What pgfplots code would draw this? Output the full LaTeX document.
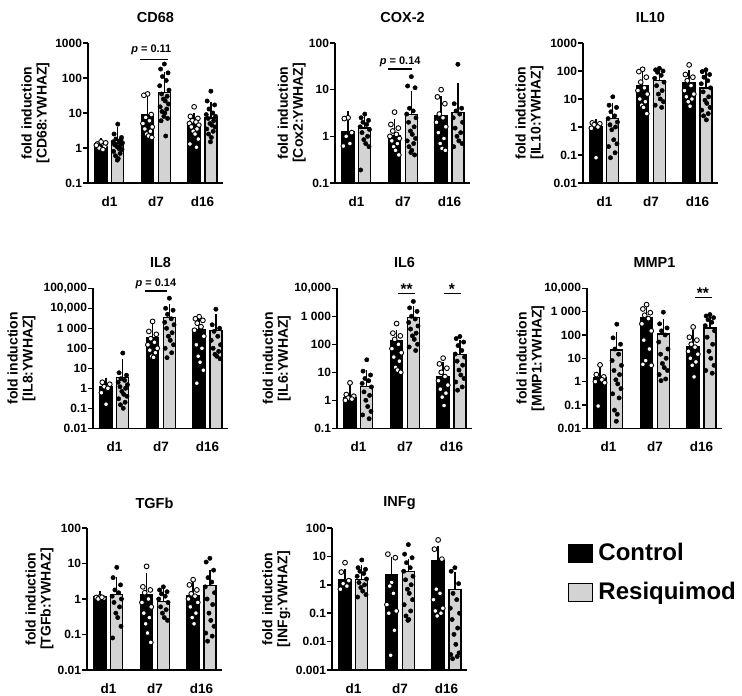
\documentclass[border=0pt]{standalone}
\usepackage{fontspec}
\setmainfont{Liberation Sans}
\usepackage{pgfplots}
\pgfplotsset{compat=1.18}
\definecolor{resq}{RGB}{211,211,211}
\newcommand{\labf}{\fontsize{14}{15}\selectfont\bfseries}
\newcommand{\titf}{\fontsize{14.5}{16}\selectfont\bfseries}
\newcommand{\pfont}{\fontsize{11}{12}\selectfont\bfseries}
\newcommand{\sfont}{\fontsize{15.5}{17}\selectfont\bfseries}
\pgfplotsset{
  cellaxis/.style={scale only axis, width=135pt, xmin=-0.46, xmax=2.44, log origin y=infty,
    axis x line*=bottom, axis y line*=left, axis line style={line width=1.5pt},
    xtick={0,1,2}, xticklabels={d1,d7,d16}, xtick style={draw=none},
    ytick style={line width=1.5pt,black}, tick align=outside, major tick length=5pt,
    yminorticks=false, clip=false, anchor=south west,
    xticklabel style={font=\fontsize{13.5}{15}\selectfont\bfseries, yshift=-5pt},
    yticklabel style={font=\fontsize{12}{14}\selectfont\bfseries, xshift=2.5pt}},
  ctrlbar/.style={ybar, bar shift=0pt, bar width=12pt, fill=black, draw=black, line width=1.3pt,
    error bars/y dir=plus, error bars/y explicit,
    error bars/error bar style={line width=1.3pt,black},
    error bars/error mark options={mark size=5pt,line width=1.3pt,black}},
  resqbar/.style={ybar, bar shift=0pt, bar width=12pt, fill=resq, draw=black, line width=1.3pt,
    error bars/y dir=plus, error bars/y explicit,
    error bars/error bar style={line width=1.3pt,black},
    error bars/error mark options={mark size=5pt,line width=1.3pt,black}},
  ctrlpts/.style={only marks, mark=*, mark size=2.4pt, mark options={fill=white,draw=black,line width=0.9pt}},
  resqpts/.style={only marks, mark=*, mark size=2.2pt, mark options={fill=black,draw=black}},
}
\begin{document}
\begin{tikzpicture}
\useasboundingbox (0,0) rectangle (742pt,696pt);
% ---------------- CD68
\begin{axis}[cellaxis, ymode=log, height=140pt, at={(88pt,513pt)}, ymin=0.1, ymax=1000,
  ytick={0.1,1,10,100,1000}, yticklabels={0.1,1,10,100,1000}]
\addplot[ctrlbar] coordinates {(-0.18,1.1) +- (0,0.3) (0.82,8.9) +- (0,12.6) (1.82,4.85) +- (0,2.35)};
\addplot[resqbar] coordinates {(0.18,1.35) +- (0,1.45) (1.18,39) +- (0,65) (2.18,7.2) +- (0,7.8)};
\addplot[ctrlpts] coordinates {(-0.18,1.5)(-0.26,1.3)(-0.10,1.1)(-0.22,1.0)(-0.14,0.9)(-0.28,1.2)(-0.08,1.4)
(0.82,35)(0.74,32)(0.90,9)(0.78,7.5)(0.86,6)(0.72,5)(0.92,4)(0.76,3.5)(0.88,3)(0.80,2.5)(0.84,2.2)(0.91,2.0)
(1.82,15)(1.74,8)(1.90,7)(1.78,6)(1.86,5.5)(1.72,5)(1.92,4.5)(1.76,4)(1.88,3.5)(1.80,3)(1.84,2.5)(1.91,1.8)(1.73,1.3)(1.87,1.05)};
\addplot[resqpts] coordinates {(0.18,4.8)(0.10,2.5)(0.26,2.0)(0.14,1.8)(0.22,1.6)(0.08,1.5)(0.28,1.4)(0.12,1.3)(0.24,1.2)(0.16,1.1)(0.20,1.0)(0.27,0.9)(0.09,0.8)(0.23,0.7)(0.13,0.6)(0.19,0.5)(0.17,0.45)(0.25,1.7)(0.11,1.25)(0.21,0.95)
(1.18,250)(1.10,180)(1.26,140)(1.14,110)(1.22,85)(1.08,60)(1.28,45)(1.12,35)(1.24,30)(1.16,25)(1.20,22)(1.27,18)(1.09,15)(1.23,13)(1.13,11)(1.19,10)(1.17,8)(1.25,7)(1.11,6)(1.21,2.2)
(2.18,42)(2.10,22)(2.26,17)(2.14,13)(2.22,10)(2.08,9)(2.28,8)(2.12,7)(2.24,6)(2.16,5)(2.20,4.5)(2.27,4)(2.09,3.5)(2.23,3)(2.13,2.5)(2.19,2)(2.17,1.5)};
\draw[line width=1.3pt] (axis cs:0.65,345) -- (axis cs:1.25,345);
\node[font=\pfont, anchor=base, yshift=6.5pt] at (axis cs:0.9,345) {{\itshape p} = 0.11};
\node[font=\titf, yshift=25.5pt] at (rel axis cs:0.5,1) {CD68};
\node[font=\labf, xshift=-52.6pt, rotate=90, align=center] at (rel axis cs:0,0.5) {fold induction\\{[}CD68:YWHAZ{]}};
\end{axis}
% ---------------- COX-2
\begin{axis}[cellaxis, ymode=log, height=140pt, at={(335pt,513pt)}, ymin=0.1, ymax=100,
  ytick={0.1,1,10,100}, yticklabels={0.1,1,10,100}]
\addplot[ctrlbar] coordinates {(-0.18,1.28) +- (0,1.42) (0.82,1.05) +- (0,0.75) (1.82,2.8) +- (0,2.8)};
\addplot[resqbar] coordinates {(0.18,1.5) +- (0,1.0) (1.18,2.9) +- (0,4.3) (2.18,3.2) +- (0,7.6)};
\addplot[ctrlpts] coordinates {(-0.18,2.5)(-0.26,2.4)(-0.10,1.2)(-0.22,1.0)(-0.14,0.7)(-0.28,0.62)
(0.82,3.3)(0.74,1.8)(0.90,1.5)(0.78,1.3)(0.86,1.1)(0.72,1.0)(0.92,0.9)(0.76,0.8)(0.88,0.7)(0.80,0.6)(0.84,0.5)(0.91,0.4)
(1.82,10)(1.74,7)(1.90,5)(1.78,3)(1.86,2.5)(1.72,2)(1.92,1.6)(1.76,1.2)(1.88,0.9)(1.80,0.7)(1.84,0.55)(1.91,0.5)};
\addplot[resqpts] coordinates {(0.18,3.0)(0.10,2.5)(0.26,2.2)(0.14,2.0)(0.22,1.8)(0.08,1.6)(0.28,1.4)(0.12,1.2)(0.24,1.0)(0.16,0.85)(0.20,0.7)(0.27,0.6)(0.09,0.19)
(1.18,19)(1.10,12)(1.26,11)(1.14,4)(1.22,3.5)(1.08,3)(1.28,2.5)(1.12,2)(1.24,1.6)(1.16,1.3)(1.20,1.1)(1.27,0.9)(1.09,0.8)(1.23,0.7)(1.13,0.6)(1.19,0.5)(1.17,0.45)(1.25,0.4)
(2.18,35)(2.10,5)(2.26,4)(2.14,3.5)(2.22,3)(2.08,2.5)(2.28,2)(2.12,1.5)(2.24,1.2)(2.16,1.0)(2.20,0.8)(2.27,0.7)(2.09,0.6)};
\draw[line width=1.3pt] (axis cs:0.68,27.7) -- (axis cs:1.19,27.7);
\node[font=\pfont, anchor=base, yshift=4.5pt] at (axis cs:0.94,27.7) {{\itshape p} = 0.14};
\node[font=\titf, yshift=25.5pt] at (rel axis cs:0.5,1) {COX-2};
\node[font=\labf, xshift=-43.3pt, rotate=90, align=center] at (rel axis cs:0,0.5) {fold induction\\{[}Cox2:YWHAZ{]}};
\end{axis}
% ---------------- IL10
\begin{axis}[cellaxis, ymode=log, height=140pt, at={(583pt,513pt)}, ymin=0.01, ymax=1000,
  ytick={0.01,0.1,1,10,100,1000}, yticklabels={0.01,0.1,1,10,100,1000}]
\addplot[ctrlbar] coordinates {(-0.18,1.0) +- (0,0.3) (0.82,30) +- (0,34) (1.82,37) +- (0,37)};
\addplot[resqbar] coordinates {(0.18,2.0) +- (0,2.8) (1.18,45) +- (0,52) (2.18,25) +- (0,36)};
\addplot[ctrlpts] coordinates {(-0.26,1.4)(-0.10,1.3)(-0.22,1.2)(-0.14,1.0)(-0.28,0.9)(-0.18,0.08)
(0.82,115)(0.74,95)(0.90,60)(0.78,40)(0.86,25)(0.72,20)(0.92,15)(0.76,10)(0.88,8)(0.80,6)(0.84,5)(0.91,3)
(1.82,165)(1.74,75)(1.90,60)(1.78,45)(1.86,30)(1.72,20)(1.92,15)(1.76,12)(1.88,10)(1.80,8)(1.84,5.5)};
\addplot[resqpts] coordinates {(0.18,12)(0.10,6)(0.26,5)(0.14,3.5)(0.22,2.5)(0.08,2)(0.28,1.5)(0.12,1.2)(0.24,1.0)(0.16,0.8)(0.20,0.35)(0.27,0.25)(0.09,0.2)(0.23,0.12)(0.13,0.08)
(1.18,125)(1.10,110)(1.26,100)(1.14,90)(1.22,70)(1.08,55)(1.28,40)(1.12,30)(1.24,20)(1.16,15)(1.20,10)(1.27,8)(1.09,6)(1.23,5)
(2.18,110)(2.10,95)(2.26,75)(2.14,60)(2.22,45)(2.08,35)(2.28,25)(2.12,18)(2.24,12)(2.16,9)(2.20,7)(2.27,5)(2.09,4)(2.23,3)(2.13,2.5)(2.19,1.8)};
\node[font=\titf, yshift=25.5pt] at (rel axis cs:0.5,1) {IL10};
\node[font=\labf, xshift=-53.5pt, rotate=90, align=center] at (rel axis cs:0,0.5) {fold induction\\{[}IL10:YWHAZ{]}};
\end{axis}
% ---------------- IL8
\begin{axis}[cellaxis, ymode=log, height=140pt, at={(93pt,267.7pt)}, ymin=0.01, ymax=100000,
  ytick={0.01,0.1,1,10,100,1000,10000,100000}, yticklabels={0.01,0.1,1,10,100,{1 000},{10,000},{100,000}}]
\addplot[ctrlbar] coordinates {(-0.18,1.2) +- (0,0.7) (0.82,355) +- (0,575) (1.82,890) +- (0,1710)};
\addplot[resqbar] coordinates {(0.18,3.4) +- (0,12.4) (1.18,3400) +- (0,5600) (2.18,760) +- (0,2040)};
\addplot[ctrlpts] coordinates {(-0.26,2.0)(-0.10,1.6)(-0.22,1.2)(-0.14,1.0)(-0.28,0.6)(-0.18,0.16)
(0.82,2200)(0.74,700)(0.90,500)(0.78,300)(0.86,200)(0.72,150)(0.92,100)(0.76,80)(0.88,60)(0.80,40)(0.84,35)
(1.82,3800)(1.74,3000)(1.90,2500)(1.78,1800)(1.86,1200)(1.72,800)(1.92,400)(1.76,150)(1.88,100)(1.80,40)(1.84,20)(1.91,8)(1.77,1.8)};
\addplot[resqpts] coordinates {(0.18,58)(0.10,6)(0.26,4.5)(0.14,3)(0.22,2.5)(0.08,2)(0.28,1.5)(0.12,1.2)(0.24,1.0)(0.16,0.7)(0.20,0.5)(0.27,0.4)(0.09,0.3)(0.23,0.2)(0.13,0.15)(0.19,0.1)
(1.18,32000)(1.10,10000)(1.26,8000)(1.14,5000)(1.22,3000)(1.08,2000)(1.28,1500)(1.12,1000)(1.24,600)(1.16,400)(1.20,250)(1.27,150)(1.09,100)(1.23,60)(1.13,34)
(2.18,9000)(2.10,1500)(2.26,1000)(2.14,700)(2.22,400)(2.08,250)(2.28,150)(2.12,100)(2.24,70)(2.16,50)(2.20,40)(2.27,30)};
\draw[line width=1.3pt] (axis cs:0.66,73300) -- (axis cs:1.13,73300);
\node[font=\pfont, anchor=base, yshift=4pt] at (axis cs:0.89,73300) {{\itshape p} = 0.14};
\node[font=\titf, yshift=26pt] at (rel axis cs:0.5,1) {IL8};
\node[font=\labf, xshift=-71.6pt, rotate=90, align=center] at (rel axis cs:0,0.5) {fold induction\\{[}IL8:YWHAZ{]}};
\end{axis}
% ---------------- IL6
\begin{axis}[cellaxis, ymode=log, height=140pt, at={(337pt,267.7pt)}, ymin=0.1, ymax=10000,
  ytick={0.1,1,10,100,1000,10000}, yticklabels={0.1,1,10,100,{1 000},{10,000}}]
\addplot[ctrlbar] coordinates {(-0.18,1.2) +- (0,1.1) (0.82,130) +- (0,80) (1.82,6.8) +- (0,8.7)};
\addplot[resqbar] coordinates {(0.18,3.2) +- (0,4.6) (1.18,895) +- (0,705) (2.18,44) +- (0,48)};
\addplot[ctrlpts] coordinates {(-0.18,4.2)(-0.26,1.6)(-0.10,1.4)(-0.22,1.2)(-0.14,1.1)(-0.28,1.0)
(0.82,550)(0.74,250)(0.90,200)(0.78,150)(0.86,100)(0.72,70)(0.92,50)(0.76,35)(0.88,25)(0.80,15)(0.84,12)(0.91,10)
(1.82,32)(1.74,20)(1.90,14)(1.78,10)(1.86,7)(1.72,5)(1.92,3.5)(1.76,2.5)(1.88,1.8)(1.80,1.3)(1.84,0.65)};
\addplot[resqpts] coordinates {(0.18,28)(0.10,11)(0.26,8)(0.14,6)(0.22,5)(0.08,4)(0.28,3)(0.12,2)(0.24,1.5)(0.16,1)(0.20,0.6)(0.27,0.4)(0.09,0.3)(0.23,0.22)
(1.18,3400)(1.10,2000)(1.26,1500)(1.14,1000)(1.22,800)(1.08,600)(1.28,450)(1.12,350)(1.24,250)(1.16,200)(1.20,150)(1.27,100)(1.09,80)(1.23,60)
(2.18,190)(2.10,160)(2.26,120)(2.14,90)(2.22,60)(2.08,45)(2.28,35)(2.12,25)(2.24,18)(2.16,12)(2.20,8)(2.27,6)(2.09,4.5)(2.23,3)(2.13,2.3)};
\draw[line width=1.3pt] (axis cs:0.85,6630) -- (axis cs:1.22,6630);
\draw[line width=1.3pt] (axis cs:1.84,6630) -- (axis cs:2.2,6630);
\node[font=\sfont, anchor=base, yshift=-1pt] at (axis cs:1.037,6630) {**};
\node[font=\sfont, anchor=base, yshift=-1pt] at (axis cs:2.01,6630) {*};
\node[font=\titf, yshift=26pt] at (rel axis cs:0.5,1) {IL6};
\node[font=\labf, xshift=-60.2pt, rotate=90, align=center] at (rel axis cs:0,0.5) {fold induction\\{[}IL6:YWHAZ{]}};
\end{axis}
% ---------------- MMP1
\begin{axis}[cellaxis, ymode=log, height=140pt, at={(587pt,267.7pt)}, ymin=0.01, ymax=10000,
  ytick={0.01,0.1,1,10,100,1000,10000}, yticklabels={0.01,0.1,1,10,100,{1 000},{10,000}}]
\addplot[ctrlbar] coordinates {(-0.18,1.54) +- (0,1.16) (0.82,540) +- (0,710) (1.82,32) +- (0,68)};
\addplot[resqbar] coordinates {(0.18,22.5) +- (0,56.5) (1.18,110) +- (0,190) (2.18,200) +- (0,190)};
\addplot[ctrlpts] coordinates {(-0.18,5.2)(-0.26,2)(-0.10,1.6)(-0.14,1.2)(-0.28,1.0)(-0.08,0.9)(-0.22,0.09)
(0.82,2000)(0.74,1300)(0.90,900)(0.78,700)(0.86,500)(0.72,300)(0.92,150)(0.76,60)(0.88,25)(0.80,8)(0.74,5.5)(0.92,5)
(1.82,220)(1.74,80)(1.90,60)(1.78,40)(1.86,30)(1.72,20)(1.92,15)(1.76,10)(1.88,7)(1.80,5)(1.84,1.6)};
\addplot[resqpts] coordinates {(0.18,290)(0.10,75)(0.26,40)(0.14,25)(0.22,15)(0.08,8)(0.28,5)(0.12,3)(0.24,2)(0.16,1.2)(0.20,0.8)(0.27,0.5)(0.09,0.3)(0.23,0.2)(0.13,0.06)(0.19,0.04)(0.17,0.02)
(1.18,950)(1.10,300)(1.26,200)(1.14,150)(1.22,100)(1.08,50)(1.28,25)(1.12,15)(1.24,10)(1.16,6)(1.20,4)(1.27,3)(1.09,2)(1.23,1.3)(1.13,1.1)
(2.18,750)(2.10,650)(2.26,550)(2.14,450)(2.22,350)(2.08,250)(2.28,150)(2.12,80)(2.24,40)(2.16,20)(2.20,10)(2.27,5)(2.09,3)(2.23,2.3)};
\draw[line width=1.3pt] (axis cs:1.86,4100) -- (axis cs:2.23,4100);
\node[font=\sfont, anchor=base, yshift=-1pt] at (axis cs:2.03,4100) {**};
\node[font=\titf, yshift=26pt] at (rel axis cs:0.5,1) {MMP1};
\node[font=\labf, xshift=-56.4pt, rotate=90, align=center] at (rel axis cs:0,0.5) {fold induction\\{[}MMP1:YWHAZ{]}};
\end{axis}
% ---------------- TGFb
\begin{axis}[cellaxis, ymode=log, height=142pt, at={(87pt,26pt)}, ymin=0.01, ymax=100,
  ytick={0.01,0.1,1,10,100}, yticklabels={0.01,0.1,1,10,100}]
\addplot[ctrlbar] coordinates {(-0.18,1.16) +- (0,0.09) (0.82,1.3) +- (0,2.6) (1.82,1.24) +- (0,1.06)};
\addplot[resqbar] coordinates {(0.18,1.32) +- (0,1.78) (1.18,0.86) +- (0,0.74) (2.18,2.37) +- (0,2.43)};
\addplot[ctrlpts] coordinates {(-0.18,1.15)(-0.26,1.1)(-0.10,1.05)(-0.22,1.0)(-0.14,1.12)
(0.82,8.3)(0.74,2.2)(0.90,1.8)(0.78,1.5)(0.86,1.0)(0.72,0.8)(0.92,0.6)(0.76,0.4)(0.88,0.3)(0.80,0.2)(0.84,0.11)(0.91,0.06)
(1.82,3.5)(1.74,2.5)(1.90,1.8)(1.78,1.4)(1.86,1.2)(1.72,1.0)(1.92,0.8)(1.76,0.6)(1.88,0.4)(1.80,0.3)(1.84,0.2)};
\addplot[resqpts] coordinates {(0.18,7.8)(0.10,4)(0.26,2.5)(0.14,1.8)(0.22,1.5)(0.08,1.2)(0.28,1.0)(0.12,0.8)(0.24,0.6)(0.16,0.4)(0.20,0.3)(0.27,0.17)(0.09,0.08)
(1.18,2.2)(1.10,1.8)(1.26,1.6)(1.14,1.4)(1.22,1.2)(1.08,1.0)(1.28,0.8)(1.12,0.6)(1.24,0.5)(1.16,0.4)(1.20,0.3)(1.27,0.25)
(2.18,14)(2.10,11)(2.26,6.5)(2.14,4)(2.22,3)(2.08,2.2)(2.28,1.5)(2.12,1.0)(2.24,0.7)(2.16,0.4)(2.20,0.25)(2.27,0.17)(2.09,0.11)(2.23,0.09)(2.13,0.065)};
\node[font=\titf, yshift=25pt] at (rel axis cs:0.5,1) {TGFb};
\node[font=\labf, xshift=-47.5pt, rotate=90, align=center] at (rel axis cs:0,0.5) {fold induction\\{[}TGFb:YWHAZ{]}};
\end{axis}
% ---------------- INFg
\begin{axis}[cellaxis, ymode=log, height=142pt, at={(332pt,26pt)}, ymin=0.001, ymax=100,
  ytick={0.001,0.01,0.1,1,10,100}, yticklabels={0.001,0.01,0.1,1,10,100},
  legend style={at={(1.748,0.901)}, anchor=north west, draw=none, fill=none, inner sep=0pt,
    font=\fontsize{24}{28}\selectfont\bfseries, row sep=18pt, column sep=4pt, nodes={inner sep=1pt}},
  legend cell align=left]
\addlegendimage{legend image code/.code={\draw[fill=black,draw=black,line width=1.3pt] (0pt,-9.6pt) rectangle (24pt,8.4pt);}}
\addlegendentry{Control}
\addlegendimage{legend image code/.code={\draw[fill=resq,draw=black,line width=1.3pt] (0pt,-9.6pt) rectangle (24pt,8.4pt);}}
\addlegendentry{Resiquimod}
\addplot[ctrlbar] coordinates {(-0.18,1.5) +- (0,0.9) (0.82,2.3) +- (0,4.3) (1.82,7.2) +- (0,8.8)};
\addplot[resqbar] coordinates {(0.18,1.55) +- (0,1.65) (1.18,3.0) +- (0,2.5) (2.18,0.69) +- (0,1.21)};
\addplot[ctrlpts] coordinates {(-0.18,6)(-0.26,2.8)(-0.10,1.4)(-0.22,1.1)(-0.14,0.9)(-0.28,0.7)
(0.74,12)(0.90,9)(0.82,1.2)(0.78,0.9)(0.86,0.5)(0.72,0.2)(0.92,0.12)(0.76,0.1)(0.88,0.025)(0.80,0.0033)
(1.82,38)(1.74,18)(1.90,8)(1.78,0.7)(1.86,0.5)(1.72,0.3)(1.92,0.15)(1.76,0.12)(1.88,0.1)(1.80,0.08)};
\addplot[resqpts] coordinates {(0.18,7.5)(0.10,4)(0.26,3.5)(0.14,3)(0.22,2.5)(0.08,2)(0.28,1.6)(0.12,1.2)(0.24,1.0)(0.16,0.8)(0.20,0.6)(0.27,0.45)(0.09,0.37)
(1.18,26)(1.10,12)(1.26,9)(1.14,6)(1.22,4)(1.08,3)(1.28,2)(1.12,1.5)(1.24,1.0)(1.16,0.7)(1.20,0.5)(1.27,0.3)(1.09,0.2)(1.23,0.12)(1.13,0.08)(1.19,0.06)(1.17,0.056)
(2.18,4.0)(2.10,3.0)(2.26,1.1)(2.14,0.5)(2.22,0.3)(2.08,0.15)(2.28,0.1)(2.12,0.06)(2.24,0.03)(2.16,0.018)(2.20,0.008)(2.27,0.004)(2.09,0.0035)(2.23,0.003)(2.13,0.0025)};
\node[font=\titf, yshift=25pt] at (rel axis cs:0.5,1) {INFg};
\node[font=\labf, xshift=-55.8pt, rotate=90, align=center] at (rel axis cs:0,0.5) {fold induction\\{[}INFg:YWHAZ{]}};
\end{axis}
\end{tikzpicture}
\end{document}
